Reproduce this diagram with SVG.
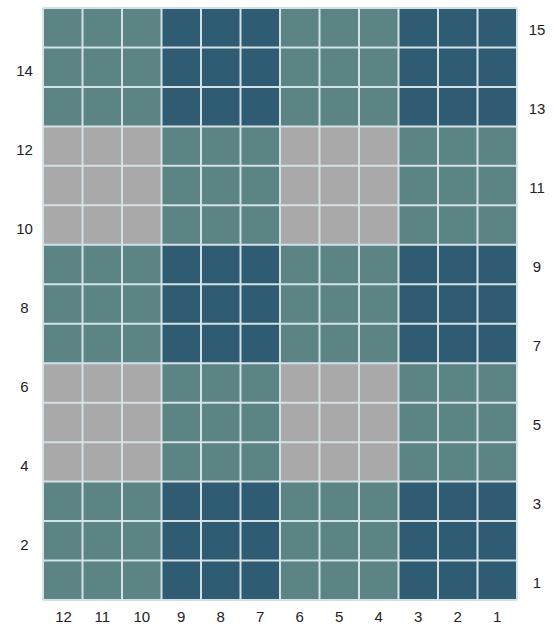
<svg xmlns="http://www.w3.org/2000/svg" width="554" height="624" viewBox="0 0 554 624">
<style>
.t{fill:#5d8485}.d{fill:#2f5c72}.g{fill:#a9a9a9}
.gl{stroke:#d3e2e5;stroke-width:2;fill:none}
.lb{font-family:"Liberation Sans",Arial,sans-serif;font-size:15px;fill:#222;text-anchor:middle}
</style>
<rect width="554" height="624" fill="#fff"/>
<g id="blocks">
<rect class="t" x="43" y="8" width="118.5" height="118.4"/>
<rect class="d" x="161.5" y="8" width="118.5" height="118.4"/>
<rect class="t" x="280" y="8" width="118.5" height="118.4"/>
<rect class="d" x="398.5" y="8" width="118.5" height="118.4"/>
<rect class="g" x="43" y="126.4" width="118.5" height="118.4"/>
<rect class="t" x="161.5" y="126.4" width="118.5" height="118.4"/>
<rect class="g" x="280" y="126.4" width="118.5" height="118.4"/>
<rect class="t" x="398.5" y="126.4" width="118.5" height="118.4"/>
<rect class="t" x="43" y="244.8" width="118.5" height="118.4"/>
<rect class="d" x="161.5" y="244.8" width="118.5" height="118.4"/>
<rect class="t" x="280" y="244.8" width="118.5" height="118.4"/>
<rect class="d" x="398.5" y="244.8" width="118.5" height="118.4"/>
<rect class="g" x="43" y="363.2" width="118.5" height="118.4"/>
<rect class="t" x="161.5" y="363.2" width="118.5" height="118.4"/>
<rect class="g" x="280" y="363.2" width="118.5" height="118.4"/>
<rect class="t" x="398.5" y="363.2" width="118.5" height="118.4"/>
<rect class="t" x="43" y="481.6" width="118.5" height="118.4"/>
<rect class="d" x="161.5" y="481.6" width="118.5" height="118.4"/>
<rect class="t" x="280" y="481.6" width="118.5" height="118.4"/>
<rect class="d" x="398.5" y="481.6" width="118.5" height="118.4"/>
</g>
<g id="gridlines" class="gl">
<path d="M43 8V600M82.5 8V600M122 8V600M161.5 8V600M201 8V600M240.5 8V600M280 8V600M319.5 8V600M359 8V600M398.5 8V600M438 8V600M477.5 8V600M517 8V600"/>
<path d="M43 8H517M43 47.47H517M43 86.93H517M43 126.4H517M43 165.87H517M43 205.33H517M43 244.8H517M43 284.27H517M43 323.73H517M43 363.2H517M43 402.67H517M43 442.13H517M43 481.6H517M43 521.07H517M43 560.53H517M43 600H517"/>
</g>
<g id="left-labels" class="lb">
<text x="24.5" y="76.2">14</text>
<text x="24.5" y="155.1">12</text>
<text x="24.5" y="234">10</text>
<text x="24.5" y="313">8</text>
<text x="24.5" y="391.9">6</text>
<text x="24.5" y="470.8">4</text>
<text x="24.5" y="549.8">2</text>
</g>
<g id="right-labels" class="lb">
<text x="537" y="35.2">15</text>
<text x="537" y="114.1">13</text>
<text x="537" y="193.1">11</text>
<text x="537" y="272">9</text>
<text x="537" y="351">7</text>
<text x="537" y="429.9">5</text>
<text x="537" y="508.8">3</text>
<text x="537" y="587.8">1</text>
</g>
<g id="bottom-labels" class="lb">
<text x="63.5" y="622">12</text>
<text x="102.25" y="622">11</text>
<text x="141.75" y="622">10</text>
<text x="181.25" y="622">9</text>
<text x="220.75" y="622">8</text>
<text x="260.25" y="622">7</text>
<text x="299.75" y="622">6</text>
<text x="339.25" y="622">5</text>
<text x="378.75" y="622">4</text>
<text x="418.25" y="622">3</text>
<text x="457.75" y="622">2</text>
<text x="497.25" y="622">1</text>
</g>
</svg>
